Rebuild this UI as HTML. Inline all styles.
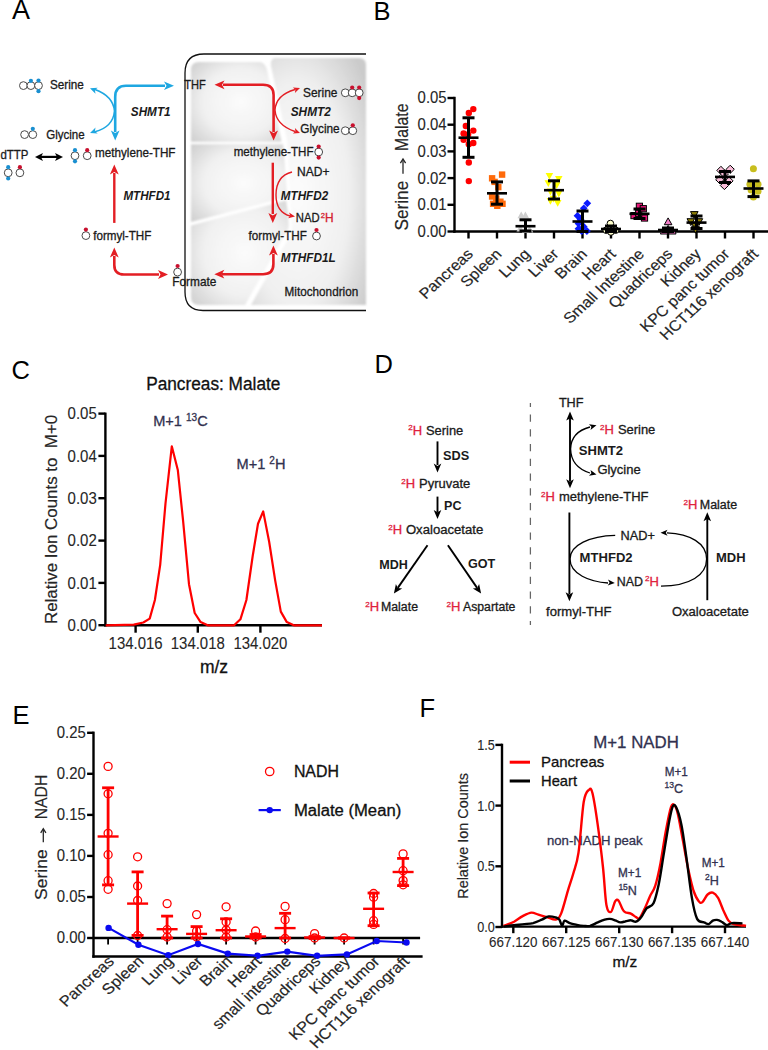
<!DOCTYPE html><html><head><meta charset="utf-8"><style>html,body{margin:0;padding:0;background:#fff;}svg{display:block;font-family:"Liberation Sans",sans-serif;}</style></head><body>
<svg width="768" height="1050" viewBox="0 0 768 1050" font-family="Liberation Sans, sans-serif">
<defs><radialGradient id="mg1" cx="0.55" cy="0.5" r="0.75"><stop offset="0" stop-color="#fbfbfb"/><stop offset="0.55" stop-color="#f1f1f1"/><stop offset="1" stop-color="#cdcdcd"/></radialGradient><radialGradient id="mg2" cx="0.4" cy="0.55" r="0.75"><stop offset="0" stop-color="#fcfcfc"/><stop offset="0.6" stop-color="#f0f0f0"/><stop offset="1" stop-color="#cbcbcb"/></radialGradient><filter id="blr" x="-5%" y="-5%" width="110%" height="110%"><feGaussianBlur stdDeviation="1.1"/></filter></defs>
<rect width="768" height="1050" fill="#fff"/>
<text x="12.1" y="18.8" font-size="27.00" fill="#000">A</text>
<text x="373.5" y="19.8" font-size="25.50" fill="#000">B</text>
<text x="11.5" y="379.2" font-size="25.50" fill="#000">C</text>
<text x="374.5" y="372.8" font-size="25.50" fill="#000">D</text>
<text x="12.5" y="723.7" font-size="25.50" fill="#000">E</text>
<text x="419.5" y="717.2" font-size="25.50" fill="#000">F</text>
<path d="M366,54 L204,54 Q185,54 185,73 L185,292 Q185,310.5 203,310.5 L366,310.5" fill="#fff" stroke="#111" stroke-width="1.3"/>
<g filter="url(#blr)">
<path d="M191,70 Q191,62 199,62 L259,62 Q265,62 267,70 L281.5,141.8 L191,141.8 Z" fill="url(#mg1)"/>
<path d="M276,58 L359,58 Q366,58 366,65 L366,305 L251,305 L292,232 Q290,180 287,140 L271,66 Q270,58 276,58 Z" fill="url(#mg2)"/>
<path d="M191,144.2 L283,144.2 Q286,175 287,197 L191,222 Z" fill="url(#mg1)"/>
<path d="M191,225.5 L286,200.5 Q289,215 288.5,228 L245,305 L199,305 Q191,305 191,297 Z" fill="url(#mg1)"/>
</g>
<circle cx="23.4" cy="85.6" r="3.9" fill="#fff" stroke="#4a4a4a" stroke-width="1.0"/>
<circle cx="30.9" cy="85.6" r="3.9" fill="#fff" stroke="#4a4a4a" stroke-width="1.0"/>
<circle cx="38.5" cy="85.6" r="3.9" fill="#fff" stroke="#4a4a4a" stroke-width="1.0"/>
<circle cx="30.9" cy="80.8" r="2.1" fill="#1a8fd0"/>
<circle cx="38.5" cy="80.6" r="2.1" fill="#1a8fd0"/>
<circle cx="38.5" cy="91.2" r="2.1" fill="#1a8fd0"/>
<circle cx="24.6" cy="134.6" r="3.9" fill="#fff" stroke="#4a4a4a" stroke-width="1.0"/>
<circle cx="32.8" cy="134.6" r="3.9" fill="#fff" stroke="#4a4a4a" stroke-width="1.0"/>
<circle cx="32.8" cy="128.8" r="2.1" fill="#1a8fd0"/>
<circle cx="75.0" cy="155.7" r="3.9" fill="#fff" stroke="#4a4a4a" stroke-width="1.0"/>
<circle cx="75.0" cy="150.2" r="2.1" fill="#1a8fd0"/>
<circle cx="75.0" cy="161.3" r="2.1" fill="#1a8fd0"/>
<circle cx="87.2" cy="155.7" r="3.9" fill="#fff" stroke="#4a4a4a" stroke-width="1.0"/>
<circle cx="87.2" cy="150.2" r="2.1" fill="#c8102e"/>
<circle cx="8.2" cy="172.8" r="3.9" fill="#fff" stroke="#4a4a4a" stroke-width="1.0"/>
<circle cx="8.2" cy="167.2" r="2.1" fill="#1a8fd0"/>
<circle cx="8.2" cy="178.5" r="2.1" fill="#1a8fd0"/>
<circle cx="19.9" cy="172.8" r="3.9" fill="#fff" stroke="#4a4a4a" stroke-width="1.0"/>
<circle cx="19.9" cy="167.2" r="2.1" fill="#c8102e"/>
<circle cx="85.9" cy="235.6" r="3.9" fill="#fff" stroke="#4a4a4a" stroke-width="1.0"/>
<circle cx="85.9" cy="229.6" r="2.1" fill="#c8102e"/>
<circle cx="177.6" cy="272.1" r="3.9" fill="#fff" stroke="#4a4a4a" stroke-width="1.0"/>
<circle cx="177.6" cy="266.0" r="2.1" fill="#c8102e"/>
<circle cx="345.3" cy="92.8" r="3.9" fill="#fff" stroke="#4a4a4a" stroke-width="1.0"/>
<circle cx="352.2" cy="92.8" r="3.9" fill="#fff" stroke="#4a4a4a" stroke-width="1.0"/>
<circle cx="359.2" cy="92.8" r="3.9" fill="#fff" stroke="#4a4a4a" stroke-width="1.0"/>
<circle cx="352.2" cy="87.5" r="2.1" fill="#c8102e"/>
<circle cx="359.2" cy="87.5" r="2.1" fill="#c8102e"/>
<circle cx="359.2" cy="98.1" r="2.1" fill="#c8102e"/>
<circle cx="345.3" cy="130.7" r="3.9" fill="#fff" stroke="#4a4a4a" stroke-width="1.0"/>
<circle cx="352.8" cy="130.7" r="3.9" fill="#fff" stroke="#4a4a4a" stroke-width="1.0"/>
<circle cx="352.8" cy="125.3" r="2.1" fill="#c8102e"/>
<circle cx="318.7" cy="152.0" r="3.9" fill="#fff" stroke="#4a4a4a" stroke-width="1.0"/>
<circle cx="318.7" cy="146.6" r="2.1" fill="#c8102e"/>
<circle cx="318.7" cy="157.6" r="2.1" fill="#c8102e"/>
<circle cx="316.5" cy="236.0" r="3.9" fill="#fff" stroke="#4a4a4a" stroke-width="1.0"/>
<circle cx="316.5" cy="230.0" r="2.1" fill="#c8102e"/>
<path d="M165,85.8 L126,85.8 Q115.2,85.8 115.2,97 L115.2,132" stroke="#1ea7e1" stroke-width="2.6" fill="none"/>
<path d="M174.0,85.8 L164.0,90.1 L166.5,85.8 L164.0,81.5 Z" fill="#1ea7e1"/>
<path d="M115.2,140.5 L110.9,130.5 L115.2,133.0 L119.5,130.5 Z" fill="#1ea7e1"/>
<path d="M95,89.5 Q113,96 114.5,111 Q113,127 95,131.8" stroke="#1ea7e1" stroke-width="1.5" fill="none"/>
<path d="M90.0,88.3 L97.7,87.7 L94.9,90.1 L95.5,93.7 Z" fill="#1ea7e1"/>
<path d="M90.0,133.0 L95.5,127.6 L94.9,131.2 L97.7,133.6 Z" fill="#1ea7e1"/>
<line x1="40.0" y1="156.9" x2="58.0" y2="156.9" stroke="#000" stroke-width="2.2"/>
<path d="M35.0,156.9 L43.0,152.9 L41.0,156.9 L43.0,160.9 Z" fill="#000"/>
<path d="M63.0,156.9 L55.0,160.9 L57.0,156.9 L55.0,152.9 Z" fill="#000"/>
<line x1="114.3" y1="222.9" x2="114.3" y2="173.0" stroke="#e31e24" stroke-width="2.4"/>
<path d="M114.3,164.6 L118.7,174.6 L114.3,172.1 L109.9,174.6 Z" fill="#e31e24"/>
<path d="M114.3,256 L114.3,265 Q114.3,274.5 124,274.5 L159,274.5" stroke="#e31e24" stroke-width="2.6" fill="none"/>
<path d="M114.3,247.5 L118.7,257.5 L114.3,255.0 L109.9,257.5 Z" fill="#e31e24"/>
<path d="M168.0,274.5 L158.0,278.9 L160.5,274.5 L158.0,270.1 Z" fill="#e31e24"/>
<path d="M223,84.8 L263,84.8 Q273.6,84.8 273.6,95 L273.6,132" stroke="#e31e24" stroke-width="2.6" fill="none"/>
<path d="M214.5,84.8 L224.5,80.4 L222.0,84.8 L224.5,89.2 Z" fill="#e31e24"/>
<path d="M273.6,140.5 L269.2,130.5 L273.6,133.0 L278.0,130.5 Z" fill="#e31e24"/>
<path d="M295,89.5 Q276,95 275,110 Q276,125 295,131.5" stroke="#e31e24" stroke-width="1.4" fill="none"/>
<path d="M300.0,88.0 L294.9,93.0 L295.4,89.7 L292.9,87.4 Z" fill="#e31e24"/>
<path d="M300.0,133.0 L292.9,133.6 L295.4,131.3 L294.9,128.0 Z" fill="#e31e24"/>
<line x1="272.8" y1="162.7" x2="272.8" y2="214.0" stroke="#e31e24" stroke-width="2.4"/>
<path d="M272.8,223.0 L268.4,213.0 L272.8,215.5 L277.2,213.0 Z" fill="#e31e24"/>
<path d="M292,172 Q276,176 276,195 Q276,212 290,216" stroke="#e31e24" stroke-width="1.4" fill="none"/>
<path d="M295.0,216.5 L288.1,218.3 L290.2,215.7 L289.1,212.4 Z" fill="#e31e24"/>
<path d="M222,274.2 L263,274.2 Q273.4,274.2 273.4,264 L273.4,254" stroke="#e31e24" stroke-width="2.6" fill="none"/>
<path d="M214.3,274.2 L224.3,269.8 L221.8,274.2 L224.3,278.6 Z" fill="#e31e24"/>
<path d="M273.4,245.5 L277.8,255.5 L273.4,253.0 L269.0,255.5 Z" fill="#e31e24"/>
<text x="50.0" y="89.3" font-size="11.90" fill="#1a1a1a" stroke="#1a1a1a" stroke-width="0.3" textLength="33.8" lengthAdjust="spacingAndGlyphs">Serine</text>
<text x="130.8" y="115.9" font-size="11.90" font-weight="bold" font-style="italic" fill="#1a1a1a" textLength="39.8" lengthAdjust="spacingAndGlyphs">SHMT1</text>
<text x="184.2" y="88.9" font-size="11.90" fill="#1a1a1a" stroke="#1a1a1a" stroke-width="0.3" textLength="21.5" lengthAdjust="spacingAndGlyphs">THF</text>
<text x="46.2" y="138.9" font-size="11.90" fill="#1a1a1a" stroke="#1a1a1a" stroke-width="0.3" textLength="38.4" lengthAdjust="spacingAndGlyphs">Glycine</text>
<text x="0.5" y="158.9" font-size="12.40" fill="#1a1a1a" stroke="#1a1a1a" stroke-width="0.3" textLength="28.0" lengthAdjust="spacingAndGlyphs">dTTP</text>
<text x="95.0" y="157.3" font-size="11.90" fill="#1a1a1a" stroke="#1a1a1a" stroke-width="0.3" textLength="80.5" lengthAdjust="spacingAndGlyphs">methylene-THF</text>
<text x="123.4" y="200.1" font-size="11.90" font-weight="bold" font-style="italic" fill="#1a1a1a" textLength="47.2" lengthAdjust="spacingAndGlyphs">MTHFD1</text>
<text x="93.2" y="239.6" font-size="11.90" fill="#1a1a1a" stroke="#1a1a1a" stroke-width="0.3" textLength="58.2" lengthAdjust="spacingAndGlyphs">formyl-THF</text>
<text x="172.2" y="286.3" font-size="11.90" fill="#1a1a1a" stroke="#1a1a1a" stroke-width="0.3" textLength="44.2" lengthAdjust="spacingAndGlyphs">Formate</text>
<text x="303.0" y="97.4" font-size="11.90" fill="#1a1a1a" stroke="#1a1a1a" stroke-width="0.3" textLength="34.4" lengthAdjust="spacingAndGlyphs">Serine</text>
<text x="290.7" y="115.6" font-size="11.90" font-weight="bold" font-style="italic" fill="#1a1a1a" textLength="40.2" lengthAdjust="spacingAndGlyphs">SHMT2</text>
<text x="300.3" y="132.9" font-size="11.90" fill="#1a1a1a" stroke="#1a1a1a" stroke-width="0.3" textLength="39.4" lengthAdjust="spacingAndGlyphs">Glycine</text>
<text x="233.7" y="156.1" font-size="11.90" fill="#1a1a1a" stroke="#1a1a1a" stroke-width="0.3" textLength="79.8" lengthAdjust="spacingAndGlyphs">methylene-THF</text>
<text x="297.1" y="175.6" font-size="11.90" fill="#1a1a1a" stroke="#1a1a1a" stroke-width="0.3" textLength="32.4" lengthAdjust="spacingAndGlyphs">NAD+</text>
<text x="280.8" y="199.6" font-size="11.90" font-weight="bold" font-style="italic" fill="#1a1a1a" textLength="47.4" lengthAdjust="spacingAndGlyphs">MTHFD2</text>
<text x="295.8" y="222.2" font-size="11.90" fill="#1a1a1a" stroke="#1a1a1a" stroke-width="0.3" textLength="23.8" lengthAdjust="spacingAndGlyphs">NAD</text>
<text x="320.7" y="222.2" font-size="11.90" fill="#d42030" stroke="#d42030" stroke-width="0.3"><tspan font-size="7.6" dy="-4.2">2</tspan><tspan dy="4.2">H</tspan></text>
<text x="248.6" y="239.6" font-size="11.90" fill="#1a1a1a" stroke="#1a1a1a" stroke-width="0.3" textLength="58.3" lengthAdjust="spacingAndGlyphs">formyl-THF</text>
<text x="280.7" y="262.2" font-size="11.90" font-weight="bold" font-style="italic" fill="#1a1a1a" textLength="55.0" lengthAdjust="spacingAndGlyphs">MTHFD1L</text>
<text x="284.6" y="296.4" font-size="11.90" fill="#1a1a1a" stroke="#1a1a1a" stroke-width="0.3" textLength="73.6" lengthAdjust="spacingAndGlyphs">Mitochondrion</text>
<line x1="454.5" y1="96.8" x2="454.5" y2="232.7" stroke="#000" stroke-width="2.4"/>
<line x1="453.3" y1="231.5" x2="768.0" y2="231.5" stroke="#000" stroke-width="2.4"/>
<line x1="447.5" y1="98.0" x2="454.5" y2="98.0" stroke="#000" stroke-width="2.4"/>
<text x="446.6" y="103.4" font-size="15.80" text-anchor="end" fill="#262626" stroke="#262626" stroke-width="0.1" textLength="29.0" lengthAdjust="spacingAndGlyphs">0.05</text>
<line x1="447.5" y1="124.7" x2="454.5" y2="124.7" stroke="#000" stroke-width="2.4"/>
<text x="446.6" y="130.1" font-size="15.80" text-anchor="end" fill="#262626" stroke="#262626" stroke-width="0.1" textLength="29.0" lengthAdjust="spacingAndGlyphs">0.04</text>
<line x1="447.5" y1="151.4" x2="454.5" y2="151.4" stroke="#000" stroke-width="2.4"/>
<text x="446.6" y="156.8" font-size="15.80" text-anchor="end" fill="#262626" stroke="#262626" stroke-width="0.1" textLength="29.0" lengthAdjust="spacingAndGlyphs">0.03</text>
<line x1="447.5" y1="178.1" x2="454.5" y2="178.1" stroke="#000" stroke-width="2.4"/>
<text x="446.6" y="183.5" font-size="15.80" text-anchor="end" fill="#262626" stroke="#262626" stroke-width="0.1" textLength="29.0" lengthAdjust="spacingAndGlyphs">0.02</text>
<line x1="447.5" y1="204.8" x2="454.5" y2="204.8" stroke="#000" stroke-width="2.4"/>
<text x="446.6" y="210.2" font-size="15.80" text-anchor="end" fill="#262626" stroke="#262626" stroke-width="0.1" textLength="29.0" lengthAdjust="spacingAndGlyphs">0.01</text>
<line x1="447.5" y1="231.5" x2="454.5" y2="231.5" stroke="#000" stroke-width="2.4"/>
<text x="446.6" y="236.9" font-size="15.80" text-anchor="end" fill="#262626" stroke="#262626" stroke-width="0.1" textLength="29.0" lengthAdjust="spacingAndGlyphs">0.00</text>
<line x1="468.5" y1="231.5" x2="468.5" y2="238.5" stroke="#000" stroke-width="2.4"/>
<line x1="497.0" y1="231.5" x2="497.0" y2="238.5" stroke="#000" stroke-width="2.4"/>
<line x1="525.5" y1="231.5" x2="525.5" y2="238.5" stroke="#000" stroke-width="2.4"/>
<line x1="554.0" y1="231.5" x2="554.0" y2="238.5" stroke="#000" stroke-width="2.4"/>
<line x1="582.5" y1="231.5" x2="582.5" y2="238.5" stroke="#000" stroke-width="2.4"/>
<line x1="611.0" y1="231.5" x2="611.0" y2="238.5" stroke="#000" stroke-width="2.4"/>
<line x1="639.5" y1="231.5" x2="639.5" y2="238.5" stroke="#000" stroke-width="2.4"/>
<line x1="668.0" y1="231.5" x2="668.0" y2="238.5" stroke="#000" stroke-width="2.4"/>
<line x1="696.5" y1="231.5" x2="696.5" y2="238.5" stroke="#000" stroke-width="2.4"/>
<line x1="725.0" y1="231.5" x2="725.0" y2="238.5" stroke="#000" stroke-width="2.4"/>
<line x1="753.5" y1="231.5" x2="753.5" y2="238.5" stroke="#000" stroke-width="2.4"/>
<text transform="translate(408.0,230.4) rotate(-90)" font-size="18.0" text-anchor="start" fill="#262626" stroke="#262626" stroke-width="0.18" textLength="49.6" lengthAdjust="spacingAndGlyphs">Serine</text>
<text transform="translate(408.0,150.9) rotate(-90)" font-size="18.0" text-anchor="start" fill="#262626" stroke="#262626" stroke-width="0.18" textLength="47.4" lengthAdjust="spacingAndGlyphs">Malate</text>
<line x1="403.0" y1="173.7" x2="403.0" y2="159.5" stroke="#262626" stroke-width="1.3"/>
<path d="M400.4,163.2 L403.0,159.0 L405.6,163.2" fill="none" stroke="#262626" stroke-width="1.3"/>
<circle cx="473.3" cy="109.1" r="3.2" fill="#ff0000"/>
<circle cx="468.8" cy="113.0" r="3.2" fill="#ff0000"/>
<circle cx="465.8" cy="126.0" r="3.2" fill="#ff0000"/>
<circle cx="473.3" cy="130.6" r="3.2" fill="#ff0000"/>
<circle cx="463.6" cy="133.4" r="3.2" fill="#ff0000"/>
<circle cx="468.1" cy="134.5" r="3.2" fill="#ff0000"/>
<circle cx="463.6" cy="139.7" r="3.2" fill="#ff0000"/>
<circle cx="473.3" cy="143.0" r="3.2" fill="#ff0000"/>
<circle cx="468.8" cy="144.2" r="3.2" fill="#ff0000"/>
<circle cx="468.8" cy="162.5" r="3.2" fill="#ff0000"/>
<circle cx="468.8" cy="181.1" r="3.2" fill="#ff0000"/>
<line x1="468.5" y1="117.8" x2="468.5" y2="157.3" stroke="#000" stroke-width="3.0"/>
<line x1="462.5" y1="117.8" x2="474.5" y2="117.8" stroke="#000" stroke-width="3.0"/>
<line x1="462.5" y1="157.3" x2="474.5" y2="157.3" stroke="#000" stroke-width="3.0"/>
<line x1="458.5" y1="137.7" x2="478.5" y2="137.7" stroke="#000" stroke-width="2.6"/>
<rect x="488.9" y="175.1" width="6.4" height="6.4" fill="#ff6a0a"/>
<rect x="498.9" y="171.4" width="6.4" height="6.4" fill="#ff6a0a"/>
<rect x="491.4" y="178.7" width="6.4" height="6.4" fill="#ff6a0a"/>
<rect x="495.1" y="183.9" width="6.4" height="6.4" fill="#ff6a0a"/>
<rect x="488.9" y="193.3" width="6.4" height="6.4" fill="#ff6a0a"/>
<rect x="497.2" y="198.5" width="6.4" height="6.4" fill="#ff6a0a"/>
<rect x="489.9" y="200.6" width="6.4" height="6.4" fill="#ff6a0a"/>
<rect x="494.1" y="202.6" width="6.4" height="6.4" fill="#ff6a0a"/>
<rect x="499.3" y="200.6" width="6.4" height="6.4" fill="#ff6a0a"/>
<rect x="493.1" y="195.3" width="6.4" height="6.4" fill="#ff6a0a"/>
<line x1="497.0" y1="181.9" x2="497.0" y2="204.2" stroke="#000" stroke-width="3.0"/>
<line x1="491.0" y1="181.9" x2="503.0" y2="181.9" stroke="#000" stroke-width="3.0"/>
<line x1="491.0" y1="204.2" x2="503.0" y2="204.2" stroke="#000" stroke-width="3.0"/>
<line x1="487.0" y1="193.3" x2="507.0" y2="193.3" stroke="#000" stroke-width="2.6"/>
<path d="M521.2,211.6 L525.0,218.3 L517.5,218.3 Z" fill="#cfcfcf"/>
<path d="M525.4,211.6 L529.1,218.3 L521.7,218.3 Z" fill="#cfcfcf"/>
<path d="M520.2,224.8 L523.9,231.4 L516.5,231.4 Z" fill="#cfcfcf"/>
<path d="M525.4,226.4 L529.1,233.1 L521.7,233.1 Z" fill="#cfcfcf"/>
<path d="M529.6,225.8 L533.3,232.5 L525.9,232.5 Z" fill="#cfcfcf"/>
<line x1="525.5" y1="219.8" x2="525.5" y2="231.0" stroke="#000" stroke-width="3.0"/>
<line x1="519.5" y1="219.8" x2="531.5" y2="219.8" stroke="#000" stroke-width="3.0"/>
<line x1="519.5" y1="231.0" x2="531.5" y2="231.0" stroke="#000" stroke-width="3.0"/>
<line x1="515.5" y1="226.2" x2="535.5" y2="226.2" stroke="#000" stroke-width="2.6"/>
<path d="M549.4,179.7 L553.2,172.9 L545.6,172.9 Z" fill="#ffff00"/>
<path d="M558.8,182.9 L562.5,176.0 L555.0,176.0 Z" fill="#ffff00"/>
<path d="M548.3,187.0 L552.1,180.2 L544.5,180.2 Z" fill="#ffff00"/>
<path d="M556.7,189.1 L560.5,182.3 L552.9,182.3 Z" fill="#ffff00"/>
<path d="M550.4,195.4 L554.2,188.5 L546.6,188.5 Z" fill="#ffff00"/>
<path d="M558.8,197.4 L562.5,190.6 L555.0,190.6 Z" fill="#ffff00"/>
<path d="M553.5,202.6 L557.3,195.8 L549.7,195.8 Z" fill="#ffff00"/>
<path d="M557.7,206.8 L561.5,200.0 L553.9,200.0 Z" fill="#ffff00"/>
<path d="M550.4,204.7 L554.2,197.9 L546.6,197.9 Z" fill="#ffff00"/>
<line x1="554.0" y1="180.8" x2="554.0" y2="199.0" stroke="#000" stroke-width="3.0"/>
<line x1="548.0" y1="180.8" x2="560.0" y2="180.8" stroke="#000" stroke-width="3.0"/>
<line x1="548.0" y1="199.0" x2="560.0" y2="199.0" stroke="#000" stroke-width="3.0"/>
<line x1="544.0" y1="190.2" x2="564.0" y2="190.2" stroke="#000" stroke-width="2.6"/>
<path d="M587.3,199.4 L591.2,203.3 L587.3,207.2 L583.4,203.3 Z" fill="#0a1aff"/>
<path d="M583.8,204.4 L587.6,208.3 L583.8,212.2 L579.9,208.3 Z" fill="#0a1aff"/>
<path d="M577.5,211.9 L581.4,215.8 L577.5,219.7 L573.6,215.8 Z" fill="#0a1aff"/>
<path d="M580.6,215.5 L584.5,219.4 L580.6,223.3 L576.7,219.4 Z" fill="#0a1aff"/>
<path d="M578.5,219.6 L582.4,223.5 L578.5,227.4 L574.6,223.5 Z" fill="#0a1aff"/>
<path d="M583.8,222.8 L587.6,226.7 L583.8,230.6 L579.9,226.7 Z" fill="#0a1aff"/>
<path d="M586.9,227.1 L590.8,231.0 L586.9,234.9 L583.0,231.0 Z" fill="#0a1aff"/>
<path d="M581.7,227.1 L585.6,231.0 L581.7,234.9 L577.8,231.0 Z" fill="#0a1aff"/>
<path d="M578.5,224.8 L582.4,228.8 L578.5,232.7 L574.6,228.8 Z" fill="#0a1aff"/>
<line x1="582.5" y1="211.0" x2="582.5" y2="231.5" stroke="#000" stroke-width="3.0"/>
<line x1="576.5" y1="211.0" x2="588.5" y2="211.0" stroke="#000" stroke-width="3.0"/>
<line x1="576.5" y1="231.5" x2="588.5" y2="231.5" stroke="#000" stroke-width="3.0"/>
<line x1="572.5" y1="221.5" x2="592.5" y2="221.5" stroke="#000" stroke-width="2.6"/>
<circle cx="610.4" cy="223.5" r="3.3" fill="#ffffcc" stroke="#000" stroke-width="1.0"/>
<circle cx="606.2" cy="230.2" r="3.3" fill="#ffffcc" stroke="#000" stroke-width="1.0"/>
<circle cx="615.5" cy="230.2" r="3.3" fill="#ffffcc" stroke="#000" stroke-width="1.0"/>
<circle cx="610.9" cy="232.0" r="3.3" fill="#ffffcc" stroke="#000" stroke-width="1.0"/>
<line x1="611.0" y1="226.0" x2="611.0" y2="231.5" stroke="#000" stroke-width="3.0"/>
<line x1="605.0" y1="226.0" x2="617.0" y2="226.0" stroke="#000" stroke-width="3.0"/>
<line x1="605.0" y1="231.5" x2="617.0" y2="231.5" stroke="#000" stroke-width="3.0"/>
<line x1="601.0" y1="229.0" x2="621.0" y2="229.0" stroke="#000" stroke-width="2.6"/>
<rect x="636.3" y="203.2" width="6.2" height="6.2" fill="#e8177a" stroke="#000" stroke-width="1.0"/>
<rect x="630.9" y="212.5" width="6.2" height="6.2" fill="#e8177a" stroke="#000" stroke-width="1.0"/>
<rect x="641.4" y="214.9" width="6.2" height="6.2" fill="#e8177a" stroke="#000" stroke-width="1.0"/>
<rect x="635.6" y="210.2" width="6.2" height="6.2" fill="#e8177a" stroke="#000" stroke-width="1.0"/>
<rect x="640.2" y="205.6" width="6.2" height="6.2" fill="#e8177a" stroke="#000" stroke-width="1.0"/>
<line x1="639.5" y1="209.0" x2="639.5" y2="218.5" stroke="#000" stroke-width="3.0"/>
<line x1="633.5" y1="209.0" x2="645.5" y2="209.0" stroke="#000" stroke-width="3.0"/>
<line x1="633.5" y1="218.5" x2="645.5" y2="218.5" stroke="#000" stroke-width="3.0"/>
<line x1="629.5" y1="213.8" x2="649.5" y2="213.8" stroke="#000" stroke-width="2.6"/>
<path d="M668.1,217.9 L671.9,224.7 L664.3,224.7 Z" fill="#f07cc6" stroke="#000" stroke-width="1.0"/>
<path d="M664.2,227.2 L668.0,234.0 L660.4,234.0 Z" fill="#f07cc6" stroke="#000" stroke-width="1.0"/>
<path d="M672.3,227.2 L676.1,234.0 L668.5,234.0 Z" fill="#f07cc6" stroke="#000" stroke-width="1.0"/>
<path d="M668.1,225.4 L671.9,232.2 L664.3,232.2 Z" fill="#f07cc6" stroke="#000" stroke-width="1.0"/>
<line x1="668.0" y1="228.0" x2="668.0" y2="231.5" stroke="#000" stroke-width="3.0"/>
<line x1="662.0" y1="228.0" x2="674.0" y2="228.0" stroke="#000" stroke-width="3.0"/>
<line x1="662.0" y1="231.5" x2="674.0" y2="231.5" stroke="#000" stroke-width="3.0"/>
<line x1="658.0" y1="230.0" x2="678.0" y2="230.0" stroke="#000" stroke-width="2.6"/>
<path d="M694.3,218.4 L698.1,211.6 L690.5,211.6 Z" fill="#8a7b05" stroke="#000" stroke-width="1.0"/>
<path d="M690.8,225.5 L694.6,218.7 L687.0,218.7 Z" fill="#8a7b05" stroke="#000" stroke-width="1.0"/>
<path d="M698.9,225.5 L702.7,218.7 L695.1,218.7 Z" fill="#8a7b05" stroke="#000" stroke-width="1.0"/>
<path d="M694.8,229.0 L698.6,222.2 L691.0,222.2 Z" fill="#8a7b05" stroke="#000" stroke-width="1.0"/>
<path d="M695.5,233.1 L699.3,226.3 L691.7,226.3 Z" fill="#8a7b05" stroke="#000" stroke-width="1.0"/>
<line x1="696.5" y1="216.0" x2="696.5" y2="228.5" stroke="#000" stroke-width="3.0"/>
<line x1="690.5" y1="216.0" x2="702.5" y2="216.0" stroke="#000" stroke-width="3.0"/>
<line x1="690.5" y1="228.5" x2="702.5" y2="228.5" stroke="#000" stroke-width="3.0"/>
<line x1="686.5" y1="222.6" x2="706.5" y2="222.6" stroke="#000" stroke-width="2.6"/>
<path d="M720.9,166.3 L725.0,170.4 L720.9,174.5 L716.8,170.4 Z" fill="#f8bcd8" stroke="#000" stroke-width="1.0"/>
<path d="M730.2,165.2 L734.3,169.3 L730.2,173.4 L726.1,169.3 Z" fill="#f8bcd8" stroke="#000" stroke-width="1.0"/>
<path d="M724.4,169.8 L728.5,173.9 L724.4,178.0 L720.3,173.9 Z" fill="#f8bcd8" stroke="#000" stroke-width="1.0"/>
<path d="M719.8,175.6 L723.9,179.7 L719.8,183.8 L715.7,179.7 Z" fill="#f8bcd8" stroke="#000" stroke-width="1.0"/>
<path d="M729.0,176.8 L733.1,180.9 L729.0,185.0 L724.9,180.9 Z" fill="#f8bcd8" stroke="#000" stroke-width="1.0"/>
<path d="M724.4,181.4 L728.5,185.5 L724.4,189.6 L720.3,185.5 Z" fill="#f8bcd8" stroke="#000" stroke-width="1.0"/>
<line x1="725.0" y1="171.5" x2="725.0" y2="182.5" stroke="#000" stroke-width="3.0"/>
<line x1="719.0" y1="171.5" x2="731.0" y2="171.5" stroke="#000" stroke-width="3.0"/>
<line x1="719.0" y1="182.5" x2="731.0" y2="182.5" stroke="#000" stroke-width="3.0"/>
<line x1="715.0" y1="176.9" x2="735.0" y2="176.9" stroke="#000" stroke-width="2.6"/>
<circle cx="753.4" cy="168.8" r="3.5" fill="#c8be1e"/>
<circle cx="749.9" cy="184.3" r="3.5" fill="#c8be1e"/>
<circle cx="758.0" cy="184.3" r="3.5" fill="#c8be1e"/>
<circle cx="751.1" cy="190.1" r="3.5" fill="#c8be1e"/>
<circle cx="758.0" cy="191.3" r="3.5" fill="#c8be1e"/>
<circle cx="753.4" cy="197.1" r="3.5" fill="#c8be1e"/>
<line x1="753.5" y1="180.9" x2="753.5" y2="196.6" stroke="#000" stroke-width="3.0"/>
<line x1="747.5" y1="180.9" x2="759.5" y2="180.9" stroke="#000" stroke-width="3.0"/>
<line x1="747.5" y1="196.6" x2="759.5" y2="196.6" stroke="#000" stroke-width="3.0"/>
<line x1="743.5" y1="188.5" x2="763.5" y2="188.5" stroke="#000" stroke-width="2.6"/>
<text transform="translate(474.1,255.0) scale(1.08,1) rotate(-45)" font-size="15.0" text-anchor="end" fill="#262626" stroke="#262626" stroke-width="0.18">Pancreas</text>
<text transform="translate(502.6,255.0) scale(1.08,1) rotate(-45)" font-size="15.0" text-anchor="end" fill="#262626" stroke="#262626" stroke-width="0.18">Spleen</text>
<text transform="translate(531.1,255.0) scale(1.08,1) rotate(-45)" font-size="15.0" text-anchor="end" fill="#262626" stroke="#262626" stroke-width="0.18">Lung</text>
<text transform="translate(559.6,255.0) scale(1.08,1) rotate(-45)" font-size="15.0" text-anchor="end" fill="#262626" stroke="#262626" stroke-width="0.18">Liver</text>
<text transform="translate(588.1,255.0) scale(1.08,1) rotate(-45)" font-size="15.0" text-anchor="end" fill="#262626" stroke="#262626" stroke-width="0.18">Brain</text>
<text transform="translate(616.6,255.0) scale(1.08,1) rotate(-45)" font-size="15.0" text-anchor="end" fill="#262626" stroke="#262626" stroke-width="0.18">Heart</text>
<text transform="translate(645.1,255.0) scale(1.08,1) rotate(-45)" font-size="15.0" text-anchor="end" fill="#262626" stroke="#262626" stroke-width="0.18">Small Intestine</text>
<text transform="translate(673.6,255.0) scale(1.08,1) rotate(-45)" font-size="15.0" text-anchor="end" fill="#262626" stroke="#262626" stroke-width="0.18">Quadriceps</text>
<text transform="translate(702.1,255.0) scale(1.08,1) rotate(-45)" font-size="15.0" text-anchor="end" fill="#262626" stroke="#262626" stroke-width="0.18">Kidney</text>
<text transform="translate(730.6,255.0) scale(1.08,1) rotate(-45)" font-size="15.0" text-anchor="end" fill="#262626" stroke="#262626" stroke-width="0.18">KPC panc tumor</text>
<text transform="translate(759.1,255.0) scale(1.08,1) rotate(-45)" font-size="15.0" text-anchor="end" fill="#262626" stroke="#262626" stroke-width="0.18">HCT116 xenograft</text>
<line x1="105.4" y1="412.6" x2="105.4" y2="626.5" stroke="#000" stroke-width="2.4"/>
<line x1="104.2" y1="625.3" x2="322.0" y2="625.3" stroke="#000" stroke-width="2.4"/>
<line x1="98.4" y1="413.6" x2="105.4" y2="413.6" stroke="#000" stroke-width="2.4"/>
<text x="96.8" y="419.2" font-size="16.40" text-anchor="end" fill="#262626" stroke="#262626" stroke-width="0.1" textLength="29.2" lengthAdjust="spacingAndGlyphs">0.05</text>
<line x1="98.4" y1="455.9" x2="105.4" y2="455.9" stroke="#000" stroke-width="2.4"/>
<text x="96.8" y="461.5" font-size="16.40" text-anchor="end" fill="#262626" stroke="#262626" stroke-width="0.1" textLength="29.2" lengthAdjust="spacingAndGlyphs">0.04</text>
<line x1="98.4" y1="498.2" x2="105.4" y2="498.2" stroke="#000" stroke-width="2.4"/>
<text x="96.8" y="503.8" font-size="16.40" text-anchor="end" fill="#262626" stroke="#262626" stroke-width="0.1" textLength="29.2" lengthAdjust="spacingAndGlyphs">0.03</text>
<line x1="98.4" y1="540.6" x2="105.4" y2="540.6" stroke="#000" stroke-width="2.4"/>
<text x="96.8" y="546.2" font-size="16.40" text-anchor="end" fill="#262626" stroke="#262626" stroke-width="0.1" textLength="29.2" lengthAdjust="spacingAndGlyphs">0.02</text>
<line x1="98.4" y1="582.9" x2="105.4" y2="582.9" stroke="#000" stroke-width="2.4"/>
<text x="96.8" y="588.5" font-size="16.40" text-anchor="end" fill="#262626" stroke="#262626" stroke-width="0.1" textLength="29.2" lengthAdjust="spacingAndGlyphs">0.01</text>
<line x1="98.4" y1="625.2" x2="105.4" y2="625.2" stroke="#000" stroke-width="2.4"/>
<text x="96.8" y="630.8" font-size="16.40" text-anchor="end" fill="#262626" stroke="#262626" stroke-width="0.1" textLength="29.2" lengthAdjust="spacingAndGlyphs">0.00</text>
<line x1="135.6" y1="625.3" x2="135.6" y2="632.7" stroke="#000" stroke-width="2.4"/>
<text x="135.6" y="649.0" font-size="16.20" text-anchor="middle" fill="#262626" stroke="#262626" stroke-width="0.1" textLength="54.0" lengthAdjust="spacingAndGlyphs">134.016</text>
<line x1="197.8" y1="625.3" x2="197.8" y2="632.7" stroke="#000" stroke-width="2.4"/>
<text x="197.8" y="649.0" font-size="16.20" text-anchor="middle" fill="#262626" stroke="#262626" stroke-width="0.1" textLength="54.0" lengthAdjust="spacingAndGlyphs">134.018</text>
<line x1="260.4" y1="625.3" x2="260.4" y2="632.7" stroke="#000" stroke-width="2.4"/>
<text x="260.4" y="649.0" font-size="16.20" text-anchor="middle" fill="#262626" stroke="#262626" stroke-width="0.1" textLength="54.0" lengthAdjust="spacingAndGlyphs">134.020</text>
<text x="214.0" y="673.0" font-size="17.50" text-anchor="middle" fill="#111" stroke="#111" stroke-width="0.3">m/z</text>
<text transform="translate(57.4,519.4) rotate(-90)" font-size="17.4" text-anchor="middle" fill="#262626" stroke="#262626" stroke-width="0.18" textLength="209.3" lengthAdjust="spacingAndGlyphs">Relative Ion Counts to&#160; M+0</text>
<text x="146.2" y="390.0" font-size="17.60" fill="#111" stroke="#111" stroke-width="0.3" textLength="134.2" lengthAdjust="spacingAndGlyphs">Pancreas: Malate</text>
<text x="153.2" y="426.4" font-size="14.60" fill="#31314f" stroke="#31314f" stroke-width="0.3">M+1 <tspan font-size="10" dy="-5.5">13</tspan><tspan dy="5.5">C</tspan></text>
<text x="236.5" y="469.4" font-size="14.60" fill="#31314f" stroke="#31314f" stroke-width="0.3">M+1 <tspan font-size="10" dy="-5.5">2</tspan><tspan dy="5.5">H</tspan></text>
<polyline points="105.7,625.3 133.8,624.6 143.3,622.5 149.7,618.6 154.9,600.0 160.2,564.8 165.5,503.3 171.8,446.3 177.8,469.9 183.1,520.9 189.0,584.2 194.7,613.0 200.6,622.1 207.7,625.3 234.1,625.3 240.4,619.3 246.4,600.0 252.7,556.0 258.0,523.7 263.2,511.4 269.2,542.0 275.2,580.6 280.8,611.6 286.8,622.1 293.8,625.3 322.0,625.3" fill="none" stroke="#ff0000" stroke-width="2.2" stroke-linejoin="round"/>
<text x="408.2" y="434.5" font-size="13.0" fill="#e0203c" stroke="#e0203c" stroke-width="0.3"><tspan font-size="8.1" dy="-4.7">2</tspan><tspan dy="4.7">H</tspan></text>
<text x="426.0" y="434.5" font-size="12.30" fill="#1a1a1a" stroke="#1a1a1a" stroke-width="0.3" textLength="37.2" lengthAdjust="spacingAndGlyphs">Serine</text>
<line x1="437.5" y1="441.4" x2="437.5" y2="465.0" stroke="#000" stroke-width="1.9"/>
<path d="M437.5,472.6 L433.7,463.6 L437.5,465.9 L441.3,463.6 Z" fill="#000"/>
<text x="443.0" y="459.5" font-size="12.30" font-weight="bold" fill="#1a1a1a" textLength="26.2" lengthAdjust="spacingAndGlyphs">SDS</text>
<text x="401.2" y="488.3" font-size="13.0" fill="#e0203c" stroke="#e0203c" stroke-width="0.3"><tspan font-size="8.1" dy="-4.7">2</tspan><tspan dy="4.7">H</tspan></text>
<text x="419.1" y="488.3" font-size="12.30" fill="#1a1a1a" stroke="#1a1a1a" stroke-width="0.3" textLength="51.2" lengthAdjust="spacingAndGlyphs">Pyruvate</text>
<line x1="437.5" y1="496.6" x2="437.5" y2="512.0" stroke="#000" stroke-width="1.9"/>
<path d="M437.5,519.0 L433.7,510.0 L437.5,512.2 L441.3,510.0 Z" fill="#000"/>
<text x="444.1" y="510.4" font-size="12.30" font-weight="bold" fill="#1a1a1a" textLength="17.4" lengthAdjust="spacingAndGlyphs">PC</text>
<text x="388.3" y="534.3" font-size="13.0" fill="#e0203c" stroke="#e0203c" stroke-width="0.3"><tspan font-size="8.1" dy="-4.7">2</tspan><tspan dy="4.7">H</tspan></text>
<text x="405.9" y="534.3" font-size="12.30" fill="#1a1a1a" stroke="#1a1a1a" stroke-width="0.3" textLength="77.4" lengthAdjust="spacingAndGlyphs">Oxaloacetate</text>
<line x1="427.5" y1="545.3" x2="397.8" y2="587.9" stroke="#000" stroke-width="1.9"/>
<path d="M393.9,593.6 L395.9,584.0 L397.8,588.1 L402.2,588.4 Z" fill="#000"/>
<line x1="447.9" y1="545.3" x2="477.1" y2="587.9" stroke="#000" stroke-width="1.9"/>
<path d="M481.1,593.6 L472.8,588.4 L477.2,588.1 L479.1,584.0 Z" fill="#000"/>
<text x="379.3" y="569.2" font-size="12.30" font-weight="bold" fill="#1a1a1a" textLength="28.6" lengthAdjust="spacingAndGlyphs">MDH</text>
<text x="468.0" y="567.9" font-size="12.30" font-weight="bold" fill="#1a1a1a" textLength="27.3" lengthAdjust="spacingAndGlyphs">GOT</text>
<text x="365.3" y="611.3" font-size="13.0" fill="#e0203c" stroke="#e0203c" stroke-width="0.3"><tspan font-size="8.1" dy="-4.7">2</tspan><tspan dy="4.7">H</tspan></text>
<text x="381.0" y="611.3" font-size="12.30" fill="#1a1a1a" stroke="#1a1a1a" stroke-width="0.3" textLength="37.0" lengthAdjust="spacingAndGlyphs">Malate</text>
<text x="446.6" y="611.3" font-size="13.0" fill="#e0203c" stroke="#e0203c" stroke-width="0.3"><tspan font-size="8.1" dy="-4.7">2</tspan><tspan dy="4.7">H</tspan></text>
<text x="463.0" y="611.3" font-size="12.30" fill="#1a1a1a" stroke="#1a1a1a" stroke-width="0.3" textLength="52.4" lengthAdjust="spacingAndGlyphs">Aspartate</text>
<line x1="530.4" y1="403.0" x2="530.4" y2="625.0" stroke="#666" stroke-width="1.25" stroke-dasharray="7.3,7.45" stroke-dashoffset="3.3"/>
<text x="558.9" y="406.6" font-size="12.30" fill="#1a1a1a" stroke="#1a1a1a" stroke-width="0.3" textLength="24.6" lengthAdjust="spacingAndGlyphs">THF</text>
<line x1="570.0" y1="418.0" x2="570.0" y2="481.0" stroke="#000" stroke-width="1.9"/>
<path d="M570.0,411.6 L573.8,420.6 L570.0,418.4 L566.2,420.6 Z" fill="#000"/>
<path d="M570.0,488.3 L566.2,479.3 L570.0,481.6 L573.8,479.3 Z" fill="#000"/>
<path d="M590,427 Q571,432 570.6,449 Q571,467 590,473" stroke="#000" stroke-width="1.3" fill="none"/>
<path d="M596.5,425.3 L590.5,430.0 L591.4,426.7 L589.0,424.2 Z" fill="#000"/>
<path d="M596.5,474.6 L589.0,475.7 L591.4,473.2 L590.5,469.9 Z" fill="#000"/>
<text x="600.1" y="434.3" font-size="13.0" fill="#e0203c" stroke="#e0203c" stroke-width="0.3"><tspan font-size="8.1" dy="-4.7">2</tspan><tspan dy="4.7">H</tspan></text>
<text x="617.9" y="434.3" font-size="12.30" fill="#1a1a1a" stroke="#1a1a1a" stroke-width="0.3" textLength="37.4" lengthAdjust="spacingAndGlyphs">Serine</text>
<text x="578.8" y="454.5" font-size="12.30" font-weight="bold" fill="#1a1a1a" textLength="44.3" lengthAdjust="spacingAndGlyphs">SHMT2</text>
<text x="597.4" y="474.4" font-size="12.30" fill="#1a1a1a" stroke="#1a1a1a" stroke-width="0.3" textLength="43.3" lengthAdjust="spacingAndGlyphs">Glycine</text>
<text x="540.9" y="501.3" font-size="13.0" fill="#e0203c" stroke="#e0203c" stroke-width="0.3"><tspan font-size="8.1" dy="-4.7">2</tspan><tspan dy="4.7">H</tspan></text>
<text x="558.9" y="501.3" font-size="12.30" fill="#1a1a1a" stroke="#1a1a1a" stroke-width="0.3" textLength="89.6" lengthAdjust="spacingAndGlyphs">methylene-THF</text>
<line x1="569.4" y1="512.5" x2="569.4" y2="594.0" stroke="#000" stroke-width="1.9"/>
<path d="M569.4,601.2 L565.6,592.2 L569.4,594.5 L573.2,592.2 Z" fill="#000"/>
<text x="546.1" y="615.7" font-size="12.30" fill="#1a1a1a" stroke="#1a1a1a" stroke-width="0.3" textLength="65.4" lengthAdjust="spacingAndGlyphs">formyl-THF</text>
<text x="620.5" y="539.5" font-size="12.30" fill="#1a1a1a" stroke="#1a1a1a" stroke-width="0.3" textLength="34.4" lengthAdjust="spacingAndGlyphs">NAD+</text>
<text x="579.6" y="562.1" font-size="12.30" font-weight="bold" fill="#1a1a1a" textLength="53.0" lengthAdjust="spacingAndGlyphs">MTHFD2</text>
<text x="616.8" y="586.0" font-size="12.30" fill="#1a1a1a" stroke="#1a1a1a" stroke-width="0.3" textLength="26.2" lengthAdjust="spacingAndGlyphs">NAD</text>
<text x="644.9" y="586.0" font-size="13.0" fill="#e0203c" stroke="#e0203c" stroke-width="0.3"><tspan font-size="8.1" dy="-4.7">2</tspan><tspan dy="4.7">H</tspan></text>
<path d="M615.2,535.4 C590,536 570,545 570,559 C570,574 590,582 608,583" stroke="#000" stroke-width="1.3" fill="none"/>
<path d="M614.8,583.0 L607.7,585.6 L609.6,582.7 L608.0,579.6 Z" fill="#000"/>
<path d="M661,586.2 C690,586 706.6,575 706.6,559 C706.6,543 690,534 667,532.9" stroke="#000" stroke-width="1.3" fill="none"/>
<path d="M660.5,532.7 L667.5,529.7 L665.8,532.7 L667.5,535.7 Z" fill="#000"/>
<line x1="707.3" y1="600.2" x2="707.3" y2="519.0" stroke="#000" stroke-width="1.9"/>
<path d="M707.3,512.2 L711.1,521.2 L707.3,519.0 L703.5,521.2 Z" fill="#000"/>
<text x="716.0" y="562.1" font-size="12.30" font-weight="bold" fill="#1a1a1a" textLength="29.6" lengthAdjust="spacingAndGlyphs">MDH</text>
<text x="683.5" y="509.4" font-size="13.0" fill="#e0203c" stroke="#e0203c" stroke-width="0.3"><tspan font-size="8.1" dy="-4.7">2</tspan><tspan dy="4.7">H</tspan></text>
<text x="699.8" y="509.4" font-size="12.30" fill="#1a1a1a" stroke="#1a1a1a" stroke-width="0.3" textLength="37.4" lengthAdjust="spacingAndGlyphs">Malate</text>
<text x="671.9" y="615.7" font-size="12.30" fill="#1a1a1a" stroke="#1a1a1a" stroke-width="0.3" textLength="77.0" lengthAdjust="spacingAndGlyphs">Oxaloacetate</text>
<line x1="93.5" y1="731.6" x2="93.5" y2="957.7" stroke="#000" stroke-width="2.4"/>
<line x1="92.3" y1="956.5" x2="422.6" y2="956.5" stroke="#000" stroke-width="2.4"/>
<line x1="93.5" y1="938.0" x2="420.1" y2="938.0" stroke="#000" stroke-width="2.4"/>
<line x1="87.1" y1="732.8" x2="93.5" y2="732.8" stroke="#000" stroke-width="2.4"/>
<text x="85.8" y="737.8" font-size="16.10" text-anchor="end" fill="#262626" stroke="#262626" stroke-width="0.1" textLength="29.0" lengthAdjust="spacingAndGlyphs">0.25</text>
<line x1="87.1" y1="773.8" x2="93.5" y2="773.8" stroke="#000" stroke-width="2.4"/>
<text x="85.8" y="778.8" font-size="16.10" text-anchor="end" fill="#262626" stroke="#262626" stroke-width="0.1" textLength="29.0" lengthAdjust="spacingAndGlyphs">0.20</text>
<line x1="87.1" y1="814.9" x2="93.5" y2="814.9" stroke="#000" stroke-width="2.4"/>
<text x="85.8" y="819.9" font-size="16.10" text-anchor="end" fill="#262626" stroke="#262626" stroke-width="0.1" textLength="29.0" lengthAdjust="spacingAndGlyphs">0.15</text>
<line x1="87.1" y1="855.9" x2="93.5" y2="855.9" stroke="#000" stroke-width="2.4"/>
<text x="85.8" y="860.9" font-size="16.10" text-anchor="end" fill="#262626" stroke="#262626" stroke-width="0.1" textLength="29.0" lengthAdjust="spacingAndGlyphs">0.10</text>
<line x1="87.1" y1="897.0" x2="93.5" y2="897.0" stroke="#000" stroke-width="2.4"/>
<text x="85.8" y="902.0" font-size="16.10" text-anchor="end" fill="#262626" stroke="#262626" stroke-width="0.1" textLength="29.0" lengthAdjust="spacingAndGlyphs">0.05</text>
<line x1="87.1" y1="938.0" x2="93.5" y2="938.0" stroke="#000" stroke-width="2.4"/>
<text x="85.8" y="943.0" font-size="16.10" text-anchor="end" fill="#262626" stroke="#262626" stroke-width="0.1" textLength="29.0" lengthAdjust="spacingAndGlyphs">0.00</text>
<line x1="108.1" y1="938.0" x2="108.1" y2="944.5" stroke="#000" stroke-width="1.8"/>
<line x1="137.6" y1="938.0" x2="137.6" y2="944.5" stroke="#000" stroke-width="1.8"/>
<line x1="167.1" y1="938.0" x2="167.1" y2="944.5" stroke="#000" stroke-width="1.8"/>
<line x1="196.6" y1="938.0" x2="196.6" y2="944.5" stroke="#000" stroke-width="1.8"/>
<line x1="226.1" y1="938.0" x2="226.1" y2="944.5" stroke="#000" stroke-width="1.8"/>
<line x1="255.6" y1="938.0" x2="255.6" y2="944.5" stroke="#000" stroke-width="1.8"/>
<line x1="285.1" y1="938.0" x2="285.1" y2="944.5" stroke="#000" stroke-width="1.8"/>
<line x1="314.6" y1="938.0" x2="314.6" y2="944.5" stroke="#000" stroke-width="1.8"/>
<line x1="344.1" y1="938.0" x2="344.1" y2="944.5" stroke="#000" stroke-width="1.8"/>
<line x1="373.6" y1="938.0" x2="373.6" y2="944.5" stroke="#000" stroke-width="1.8"/>
<line x1="403.1" y1="938.0" x2="403.1" y2="944.5" stroke="#000" stroke-width="1.8"/>
<text transform="translate(46.9,899.9) rotate(-90)" font-size="16.8" text-anchor="start" fill="#262626" stroke="#262626" stroke-width="0.18" textLength="50.6" lengthAdjust="spacingAndGlyphs">Serine</text>
<text transform="translate(46.9,819.3) rotate(-90)" font-size="16.8" text-anchor="start" fill="#262626" stroke="#262626" stroke-width="0.18" textLength="44.6" lengthAdjust="spacingAndGlyphs">NADH</text>
<line x1="43.3" y1="842.3" x2="43.3" y2="829.2" stroke="#262626" stroke-width="1.3"/>
<path d="M40.7,832.9 L43.3,828.7 L45.9,832.9" fill="none" stroke="#262626" stroke-width="1.3"/>
<circle cx="108.1" cy="766.4" r="4.0" fill="none" stroke="#ff0000" stroke-width="1.3"/>
<circle cx="108.1" cy="793.8" r="4.0" fill="none" stroke="#ff0000" stroke-width="1.3"/>
<circle cx="108.1" cy="833.3" r="4.0" fill="none" stroke="#ff0000" stroke-width="1.3"/>
<circle cx="108.1" cy="854.7" r="4.0" fill="none" stroke="#ff0000" stroke-width="1.3"/>
<circle cx="108.1" cy="880.7" r="4.0" fill="none" stroke="#ff0000" stroke-width="1.3"/>
<circle cx="108.1" cy="889.3" r="4.0" fill="none" stroke="#ff0000" stroke-width="1.3"/>
<line x1="108.1" y1="787.8" x2="108.1" y2="884.9" stroke="#ff0000" stroke-width="2.8"/>
<line x1="102.1" y1="787.8" x2="114.1" y2="787.8" stroke="#ff0000" stroke-width="2.8"/>
<line x1="102.1" y1="884.9" x2="114.1" y2="884.9" stroke="#ff0000" stroke-width="2.8"/>
<line x1="97.6" y1="836.5" x2="118.6" y2="836.5" stroke="#ff0000" stroke-width="2.4"/>
<circle cx="137.6" cy="856.8" r="4.0" fill="none" stroke="#ff0000" stroke-width="1.3"/>
<circle cx="137.6" cy="886.0" r="4.0" fill="none" stroke="#ff0000" stroke-width="1.3"/>
<circle cx="137.6" cy="900.5" r="4.0" fill="none" stroke="#ff0000" stroke-width="1.3"/>
<circle cx="137.6" cy="935.5" r="4.0" fill="none" stroke="#ff0000" stroke-width="1.3"/>
<line x1="137.6" y1="871.9" x2="137.6" y2="935.4" stroke="#ff0000" stroke-width="2.8"/>
<line x1="131.6" y1="871.9" x2="143.6" y2="871.9" stroke="#ff0000" stroke-width="2.8"/>
<line x1="131.6" y1="935.4" x2="143.6" y2="935.4" stroke="#ff0000" stroke-width="2.8"/>
<line x1="127.1" y1="903.6" x2="148.1" y2="903.6" stroke="#ff0000" stroke-width="2.4"/>
<circle cx="167.1" cy="903.6" r="4.0" fill="none" stroke="#ff0000" stroke-width="1.3"/>
<circle cx="167.1" cy="929.7" r="4.0" fill="none" stroke="#ff0000" stroke-width="1.3"/>
<circle cx="167.1" cy="937.0" r="4.0" fill="none" stroke="#ff0000" stroke-width="1.3"/>
<line x1="167.1" y1="916.1" x2="167.1" y2="938.0" stroke="#ff0000" stroke-width="2.8"/>
<line x1="161.1" y1="916.1" x2="173.1" y2="916.1" stroke="#ff0000" stroke-width="2.8"/>
<line x1="161.1" y1="938.0" x2="173.1" y2="938.0" stroke="#ff0000" stroke-width="2.8"/>
<line x1="156.6" y1="929.2" x2="177.6" y2="929.2" stroke="#ff0000" stroke-width="2.4"/>
<circle cx="196.6" cy="914.6" r="4.0" fill="none" stroke="#ff0000" stroke-width="1.3"/>
<circle cx="196.6" cy="931.0" r="4.0" fill="none" stroke="#ff0000" stroke-width="1.3"/>
<circle cx="196.6" cy="937.0" r="4.0" fill="none" stroke="#ff0000" stroke-width="1.3"/>
<line x1="196.6" y1="926.6" x2="196.6" y2="938.0" stroke="#ff0000" stroke-width="2.8"/>
<line x1="190.6" y1="926.6" x2="202.6" y2="926.6" stroke="#ff0000" stroke-width="2.8"/>
<line x1="190.6" y1="938.0" x2="202.6" y2="938.0" stroke="#ff0000" stroke-width="2.8"/>
<line x1="186.1" y1="933.9" x2="207.1" y2="933.9" stroke="#ff0000" stroke-width="2.4"/>
<circle cx="226.1" cy="906.8" r="4.0" fill="none" stroke="#ff0000" stroke-width="1.3"/>
<circle cx="226.1" cy="922.0" r="4.0" fill="none" stroke="#ff0000" stroke-width="1.3"/>
<circle cx="226.1" cy="930.0" r="4.0" fill="none" stroke="#ff0000" stroke-width="1.3"/>
<circle cx="226.1" cy="937.0" r="4.0" fill="none" stroke="#ff0000" stroke-width="1.3"/>
<line x1="226.1" y1="918.8" x2="226.1" y2="938.0" stroke="#ff0000" stroke-width="2.8"/>
<line x1="220.1" y1="918.8" x2="232.1" y2="918.8" stroke="#ff0000" stroke-width="2.8"/>
<line x1="220.1" y1="938.0" x2="232.1" y2="938.0" stroke="#ff0000" stroke-width="2.8"/>
<line x1="215.6" y1="930.2" x2="236.6" y2="930.2" stroke="#ff0000" stroke-width="2.4"/>
<circle cx="255.6" cy="931.0" r="4.0" fill="none" stroke="#ff0000" stroke-width="1.3"/>
<circle cx="255.6" cy="937.0" r="4.0" fill="none" stroke="#ff0000" stroke-width="1.3"/>
<line x1="255.6" y1="934.5" x2="255.6" y2="938.0" stroke="#ff0000" stroke-width="2.8"/>
<line x1="249.6" y1="934.5" x2="261.6" y2="934.5" stroke="#ff0000" stroke-width="2.8"/>
<line x1="249.6" y1="938.0" x2="261.6" y2="938.0" stroke="#ff0000" stroke-width="2.8"/>
<line x1="245.1" y1="936.5" x2="266.1" y2="936.5" stroke="#ff0000" stroke-width="2.4"/>
<circle cx="285.1" cy="906.4" r="4.0" fill="none" stroke="#ff0000" stroke-width="1.3"/>
<circle cx="285.1" cy="919.7" r="4.0" fill="none" stroke="#ff0000" stroke-width="1.3"/>
<circle cx="285.1" cy="938.5" r="4.0" fill="none" stroke="#ff0000" stroke-width="1.3"/>
<line x1="285.1" y1="913.3" x2="285.1" y2="938.0" stroke="#ff0000" stroke-width="2.8"/>
<line x1="279.1" y1="913.3" x2="291.1" y2="913.3" stroke="#ff0000" stroke-width="2.8"/>
<line x1="279.1" y1="938.0" x2="291.1" y2="938.0" stroke="#ff0000" stroke-width="2.8"/>
<line x1="274.6" y1="928.1" x2="295.6" y2="928.1" stroke="#ff0000" stroke-width="2.4"/>
<circle cx="314.6" cy="933.6" r="4.0" fill="none" stroke="#ff0000" stroke-width="1.3"/>
<circle cx="314.6" cy="938.0" r="4.0" fill="none" stroke="#ff0000" stroke-width="1.3"/>
<line x1="314.6" y1="936.5" x2="314.6" y2="938.5" stroke="#ff0000" stroke-width="2.8"/>
<line x1="308.6" y1="936.5" x2="320.6" y2="936.5" stroke="#ff0000" stroke-width="2.8"/>
<line x1="308.6" y1="938.5" x2="320.6" y2="938.5" stroke="#ff0000" stroke-width="2.8"/>
<line x1="304.1" y1="937.5" x2="325.1" y2="937.5" stroke="#ff0000" stroke-width="2.4"/>
<circle cx="344.1" cy="938.0" r="4.0" fill="none" stroke="#ff0000" stroke-width="1.3"/>
<line x1="344.1" y1="938.0" x2="344.1" y2="938.0" stroke="#ff0000" stroke-width="2.8"/>
<line x1="338.1" y1="938.0" x2="350.1" y2="938.0" stroke="#ff0000" stroke-width="2.8"/>
<line x1="338.1" y1="938.0" x2="350.1" y2="938.0" stroke="#ff0000" stroke-width="2.8"/>
<line x1="333.6" y1="938.0" x2="354.6" y2="938.0" stroke="#ff0000" stroke-width="2.4"/>
<circle cx="373.6" cy="893.5" r="4.0" fill="none" stroke="#ff0000" stroke-width="1.3"/>
<circle cx="373.6" cy="897.2" r="4.0" fill="none" stroke="#ff0000" stroke-width="1.3"/>
<circle cx="373.6" cy="920.7" r="4.0" fill="none" stroke="#ff0000" stroke-width="1.3"/>
<circle cx="373.6" cy="924.4" r="4.0" fill="none" stroke="#ff0000" stroke-width="1.3"/>
<line x1="373.6" y1="893.0" x2="373.6" y2="925.7" stroke="#ff0000" stroke-width="2.8"/>
<line x1="367.6" y1="893.0" x2="379.6" y2="893.0" stroke="#ff0000" stroke-width="2.8"/>
<line x1="367.6" y1="925.7" x2="379.6" y2="925.7" stroke="#ff0000" stroke-width="2.8"/>
<line x1="363.1" y1="908.8" x2="384.1" y2="908.8" stroke="#ff0000" stroke-width="2.4"/>
<circle cx="403.1" cy="853.9" r="4.0" fill="none" stroke="#ff0000" stroke-width="1.3"/>
<circle cx="403.1" cy="870.7" r="4.0" fill="none" stroke="#ff0000" stroke-width="1.3"/>
<circle cx="403.1" cy="880.6" r="4.0" fill="none" stroke="#ff0000" stroke-width="1.3"/>
<circle cx="403.1" cy="884.8" r="4.0" fill="none" stroke="#ff0000" stroke-width="1.3"/>
<line x1="403.1" y1="858.4" x2="403.1" y2="885.6" stroke="#ff0000" stroke-width="2.8"/>
<line x1="397.1" y1="858.4" x2="409.1" y2="858.4" stroke="#ff0000" stroke-width="2.8"/>
<line x1="397.1" y1="885.6" x2="409.1" y2="885.6" stroke="#ff0000" stroke-width="2.8"/>
<line x1="392.6" y1="872.0" x2="413.6" y2="872.0" stroke="#ff0000" stroke-width="2.4"/>
<polyline points="108.6,927.9 138.4,944.8 168.2,955.2 198.0,944.0 227.8,953.6 257.5,955.8 287.3,951.6 317.1,955.8 346.9,954.4 376.7,941.0 406.5,942.5" fill="none" stroke="#0a0af0" stroke-width="2.2"/>
<circle cx="108.6" cy="927.9" r="3.2" fill="#0a0af0"/>
<circle cx="138.4" cy="944.8" r="3.2" fill="#0a0af0"/>
<circle cx="168.2" cy="955.2" r="3.2" fill="#0a0af0"/>
<circle cx="198.0" cy="944.0" r="3.2" fill="#0a0af0"/>
<circle cx="227.8" cy="953.6" r="3.2" fill="#0a0af0"/>
<circle cx="257.5" cy="955.8" r="3.2" fill="#0a0af0"/>
<circle cx="287.3" cy="951.6" r="3.2" fill="#0a0af0"/>
<circle cx="317.1" cy="955.8" r="3.2" fill="#0a0af0"/>
<circle cx="346.9" cy="954.4" r="3.2" fill="#0a0af0"/>
<circle cx="376.7" cy="941.0" r="3.2" fill="#0a0af0"/>
<circle cx="406.5" cy="942.5" r="3.2" fill="#0a0af0"/>
<circle cx="269.7" cy="771.5" r="4.2" fill="none" stroke="#ff0000" stroke-width="1.3"/>
<text x="293.9" y="776.7" font-size="15.80" fill="#111" stroke="#111" stroke-width="0.3" textLength="45.0" lengthAdjust="spacingAndGlyphs">NADH</text>
<line x1="258.6" y1="810.1" x2="280.8" y2="810.1" stroke="#0a0af0" stroke-width="2.2"/>
<circle cx="269.7" cy="810.1" r="3.2" fill="#0a0af0"/>
<text x="293.9" y="815.6" font-size="15.80" fill="#111" stroke="#111" stroke-width="0.3" textLength="107.3" lengthAdjust="spacingAndGlyphs">Malate (Mean)</text>
<text transform="translate(115.1,962.3) scale(1.08,1) rotate(-45)" font-size="15.2" text-anchor="end" fill="#262626" stroke="#262626" stroke-width="0.18">Pancreas</text>
<text transform="translate(144.6,962.3) scale(1.08,1) rotate(-45)" font-size="15.2" text-anchor="end" fill="#262626" stroke="#262626" stroke-width="0.18">Spleen</text>
<text transform="translate(174.1,962.3) scale(1.08,1) rotate(-45)" font-size="15.2" text-anchor="end" fill="#262626" stroke="#262626" stroke-width="0.18">Lung</text>
<text transform="translate(203.6,962.3) scale(1.08,1) rotate(-45)" font-size="15.2" text-anchor="end" fill="#262626" stroke="#262626" stroke-width="0.18">Liver</text>
<text transform="translate(233.1,962.3) scale(1.08,1) rotate(-45)" font-size="15.2" text-anchor="end" fill="#262626" stroke="#262626" stroke-width="0.18">Brain</text>
<text transform="translate(262.6,962.3) scale(1.08,1) rotate(-45)" font-size="15.2" text-anchor="end" fill="#262626" stroke="#262626" stroke-width="0.18">Heart</text>
<text transform="translate(292.1,962.3) scale(1.08,1) rotate(-45)" font-size="15.2" text-anchor="end" fill="#262626" stroke="#262626" stroke-width="0.18">small intestine</text>
<text transform="translate(321.6,962.3) scale(1.08,1) rotate(-45)" font-size="15.2" text-anchor="end" fill="#262626" stroke="#262626" stroke-width="0.18">Quadriceps</text>
<text transform="translate(351.1,962.3) scale(1.08,1) rotate(-45)" font-size="15.2" text-anchor="end" fill="#262626" stroke="#262626" stroke-width="0.18">Kidney</text>
<text transform="translate(380.6,962.3) scale(1.08,1) rotate(-45)" font-size="15.2" text-anchor="end" fill="#262626" stroke="#262626" stroke-width="0.18">KPC panc tumor</text>
<text transform="translate(410.1,962.3) scale(1.08,1) rotate(-45)" font-size="15.2" text-anchor="end" fill="#262626" stroke="#262626" stroke-width="0.18">HCT116 xenograft</text>
<line x1="502.0" y1="743.7" x2="502.0" y2="927.8" stroke="#000" stroke-width="2.4"/>
<line x1="500.8" y1="926.6" x2="746.0" y2="926.6" stroke="#000" stroke-width="2.4"/>
<line x1="495.4" y1="744.9" x2="502.0" y2="744.9" stroke="#000" stroke-width="2.4"/>
<text x="494.8" y="749.8" font-size="13.90" text-anchor="end" fill="#262626" stroke="#262626" stroke-width="0.1" textLength="17.6" lengthAdjust="spacingAndGlyphs">1.5</text>
<line x1="495.4" y1="805.6" x2="502.0" y2="805.6" stroke="#000" stroke-width="2.4"/>
<text x="494.8" y="810.5" font-size="13.90" text-anchor="end" fill="#262626" stroke="#262626" stroke-width="0.1" textLength="17.6" lengthAdjust="spacingAndGlyphs">1.0</text>
<line x1="495.4" y1="866.3" x2="502.0" y2="866.3" stroke="#000" stroke-width="2.4"/>
<text x="494.8" y="871.2" font-size="13.90" text-anchor="end" fill="#262626" stroke="#262626" stroke-width="0.1" textLength="17.6" lengthAdjust="spacingAndGlyphs">0.5</text>
<line x1="495.4" y1="927.0" x2="502.0" y2="927.0" stroke="#000" stroke-width="2.4"/>
<text x="494.8" y="931.9" font-size="13.90" text-anchor="end" fill="#262626" stroke="#262626" stroke-width="0.1" textLength="17.6" lengthAdjust="spacingAndGlyphs">0.0</text>
<line x1="513.3" y1="926.6" x2="513.3" y2="933.2" stroke="#000" stroke-width="2.4"/>
<text x="513.3" y="947.1" font-size="14.60" text-anchor="middle" fill="#262626" stroke="#262626" stroke-width="0.1" textLength="48.4" lengthAdjust="spacingAndGlyphs">667.120</text>
<line x1="566.2" y1="926.6" x2="566.2" y2="933.2" stroke="#000" stroke-width="2.4"/>
<text x="566.2" y="947.1" font-size="14.60" text-anchor="middle" fill="#262626" stroke="#262626" stroke-width="0.1" textLength="48.4" lengthAdjust="spacingAndGlyphs">667.125</text>
<line x1="619.2" y1="926.6" x2="619.2" y2="933.2" stroke="#000" stroke-width="2.4"/>
<text x="619.2" y="947.1" font-size="14.60" text-anchor="middle" fill="#262626" stroke="#262626" stroke-width="0.1" textLength="48.4" lengthAdjust="spacingAndGlyphs">667.130</text>
<line x1="672.1" y1="926.6" x2="672.1" y2="933.2" stroke="#000" stroke-width="2.4"/>
<text x="672.1" y="947.1" font-size="14.60" text-anchor="middle" fill="#262626" stroke="#262626" stroke-width="0.1" textLength="48.4" lengthAdjust="spacingAndGlyphs">667.135</text>
<line x1="725.0" y1="926.6" x2="725.0" y2="933.2" stroke="#000" stroke-width="2.4"/>
<text x="725.0" y="947.1" font-size="14.60" text-anchor="middle" fill="#262626" stroke="#262626" stroke-width="0.1" textLength="48.4" lengthAdjust="spacingAndGlyphs">667.140</text>
<text x="624.8" y="966.8" font-size="15.40" text-anchor="middle" fill="#111" stroke="#111" stroke-width="0.3">m/z</text>
<text transform="translate(467.8,835.9) rotate(-90)" font-size="14.6" text-anchor="middle" fill="#262626" stroke="#262626" stroke-width="0.18" textLength="125.7" lengthAdjust="spacingAndGlyphs">Relative Ion Counts</text>
<text x="593.3" y="747.9" font-size="17.40" fill="#31314f" stroke="#31314f" stroke-width="0.3" textLength="85.5" lengthAdjust="spacingAndGlyphs">M+1 NADH</text>
<line x1="509.7" y1="762.2" x2="530.0" y2="762.2" stroke="#ff0000" stroke-width="3"/>
<text x="541.0" y="767.1" font-size="15.00" fill="#111" stroke="#111" stroke-width="0.3" textLength="63.2" lengthAdjust="spacingAndGlyphs">Pancreas</text>
<line x1="509.7" y1="781.0" x2="530.0" y2="781.0" stroke="#000" stroke-width="3"/>
<text x="541.0" y="785.6" font-size="15.00" fill="#111" stroke="#111" stroke-width="0.3" textLength="36.0" lengthAdjust="spacingAndGlyphs">Heart</text>
<text x="664.7" y="775.8" font-size="12.60" fill="#31314f" stroke="#31314f" stroke-width="0.3" textLength="23.2" lengthAdjust="spacingAndGlyphs">M+1</text>
<text x="664.5" y="792.6" font-size="12.60" fill="#31314f" stroke="#31314f" stroke-width="0.3"><tspan font-size="8.5" dy="-4.5">13</tspan><tspan dy="4.5">C</tspan></text>
<text x="547.0" y="844.9" font-size="12.60" fill="#31314f" stroke="#31314f" stroke-width="0.3" textLength="95.6" lengthAdjust="spacingAndGlyphs">non-NADH peak</text>
<text x="618.0" y="877.0" font-size="12.60" fill="#31314f" stroke="#31314f" stroke-width="0.3" textLength="23.2" lengthAdjust="spacingAndGlyphs">M+1</text>
<text x="618.4" y="894.5" font-size="12.60" fill="#31314f" stroke="#31314f" stroke-width="0.3"><tspan font-size="8.5" dy="-4.5">15</tspan><tspan dy="4.5">N</tspan></text>
<text x="701.7" y="867.2" font-size="12.60" fill="#31314f" stroke="#31314f" stroke-width="0.3" textLength="23.2" lengthAdjust="spacingAndGlyphs">M+1</text>
<text x="705.0" y="884.7" font-size="12.60" fill="#31314f" stroke="#31314f" stroke-width="0.3"><tspan font-size="8.5" dy="-4.5">2</tspan><tspan dy="4.5">H</tspan></text>
<path d="M503.5,925.9 C505.2,925.2 510.8,923.3 514.0,921.7 C517.2,920.0 519.8,917.6 522.7,916.1 C525.6,914.6 528.8,912.8 531.4,912.6 C534.0,912.4 535.8,913.9 538.4,914.7 C541.0,915.5 544.2,916.3 547.1,917.1 C550.0,918.0 553.5,920.2 555.8,919.6 C558.2,919.0 559.0,918.5 561.1,913.6 C563.1,908.8 566.0,897.0 568.0,890.3 C570.1,883.6 571.5,879.8 573.3,873.5 C575.0,867.2 576.8,864.5 578.5,852.6 C580.3,840.7 582.0,812.5 583.7,802.0 C585.5,791.5 587.5,791.2 589.0,789.8 C590.4,788.3 591.0,787.5 592.5,793.3 C593.9,799.1 596.0,812.5 597.7,824.7 C599.4,836.9 601.5,853.2 602.9,866.5 C604.4,879.9 605.1,897.4 606.4,904.9 C607.8,912.5 609.5,912.5 611.0,911.9 C612.4,911.3 613.9,903.3 615.1,901.4 C616.4,899.6 617.2,899.1 618.6,900.7 C620.1,902.4 621.8,909.1 623.9,911.2 C625.9,913.4 628.8,912.7 630.8,913.6 C632.9,914.6 634.6,916.4 636.1,917.1 C637.5,917.9 638.1,919.6 639.6,918.2 C641.0,916.7 643.1,912.1 644.8,908.4 C646.5,904.8 648.3,900.0 650.0,896.2 C651.8,892.4 653.5,891.3 655.3,885.7 C657.0,880.2 658.8,872.1 660.5,863.1 C662.2,854.0 664.0,841.0 665.7,831.7 C667.5,822.3 669.5,811.6 671.0,807.2 C672.4,802.9 673.3,804.3 674.5,805.5 C675.6,806.6 676.5,808.1 677.9,814.2 C679.4,820.3 681.4,832.8 683.2,842.1 C684.9,851.4 686.7,861.9 688.4,870.0 C690.2,878.2 691.9,885.7 693.6,891.0 C695.4,896.2 697.4,899.6 698.9,901.4 C700.3,903.3 700.9,903.3 702.4,902.1 C703.8,901.0 705.9,896.0 707.6,894.5 C709.4,892.9 711.1,892.1 712.8,892.7 C714.6,893.3 716.3,895.0 718.1,897.9 C719.8,900.9 721.6,906.4 723.3,910.2 C725.1,913.9 726.8,918.3 728.5,920.6 C730.3,923.0 731.7,923.4 733.8,924.1 C735.8,924.9 738.7,924.9 740.8,925.2 C742.8,925.5 745.1,925.7 746.0,925.9" fill="none" stroke="#ff0000" stroke-width="2.4" stroke-linejoin="round"/>
<path d="M503.5,926.6 C505.2,926.3 510.5,925.6 514.0,925.2 C517.4,924.8 521.2,924.5 524.4,924.1 C527.6,923.8 530.2,923.8 533.1,923.1 C536.1,922.3 539.3,920.7 541.9,919.6 C544.5,918.5 546.5,916.8 548.8,916.4 C551.2,916.1 554.1,917.0 555.8,917.5 C557.6,918.0 558.3,918.2 559.3,919.6 C560.4,921.0 561.2,925.7 562.1,925.9 C563.0,926.0 563.3,921.1 564.5,920.6 C565.8,920.2 567.7,922.4 569.8,923.1 C571.8,923.8 574.4,924.3 576.8,924.8 C579.1,925.3 581.5,925.7 583.7,925.9 C586.0,926.0 587.7,926.4 590.0,925.9 C592.3,925.3 595.3,923.4 597.7,922.4 C600.1,921.3 602.6,920.2 604.7,919.6 C606.7,919.0 608.2,918.8 609.9,918.9 C611.7,919.0 613.4,919.7 615.1,920.3 C616.9,920.9 618.6,922.2 620.4,922.4 C622.1,922.5 623.9,921.7 625.6,921.3 C627.4,921.0 629.1,920.2 630.8,920.3 C632.6,920.3 634.3,922.2 636.1,921.7 C637.8,921.2 639.6,919.3 641.3,917.1 C643.1,914.9 644.5,910.7 646.5,908.4 C648.6,906.1 651.5,907.3 653.5,903.2 C655.6,899.1 657.0,892.4 658.8,884.0 C660.5,875.6 662.2,863.1 664.0,852.6 C665.7,842.1 667.8,828.9 669.2,821.2 C670.7,813.5 671.6,808.9 672.7,806.5 C673.9,804.2 674.7,804.2 676.2,807.2 C677.7,810.3 679.7,816.0 681.4,824.7 C683.2,833.4 684.9,847.4 686.7,859.6 C688.4,871.8 690.2,888.1 691.9,897.9 C693.6,907.8 695.1,914.8 697.1,918.9 C699.2,923.0 702.2,921.5 704.1,922.4 C706.0,923.2 707.2,924.4 708.7,924.1 C710.1,923.8 711.4,921.3 712.8,920.6 C714.2,919.9 715.6,919.8 717.0,919.9 C718.5,920.1 719.9,920.8 721.6,921.7 C723.2,922.5 725.1,924.9 726.8,925.2 C728.5,925.4 729.4,923.4 732.0,923.1 C734.6,922.8 740.8,923.4 742.5,923.4" fill="none" stroke="#000" stroke-width="2.4" stroke-linejoin="round"/>
</svg>
</body></html>
